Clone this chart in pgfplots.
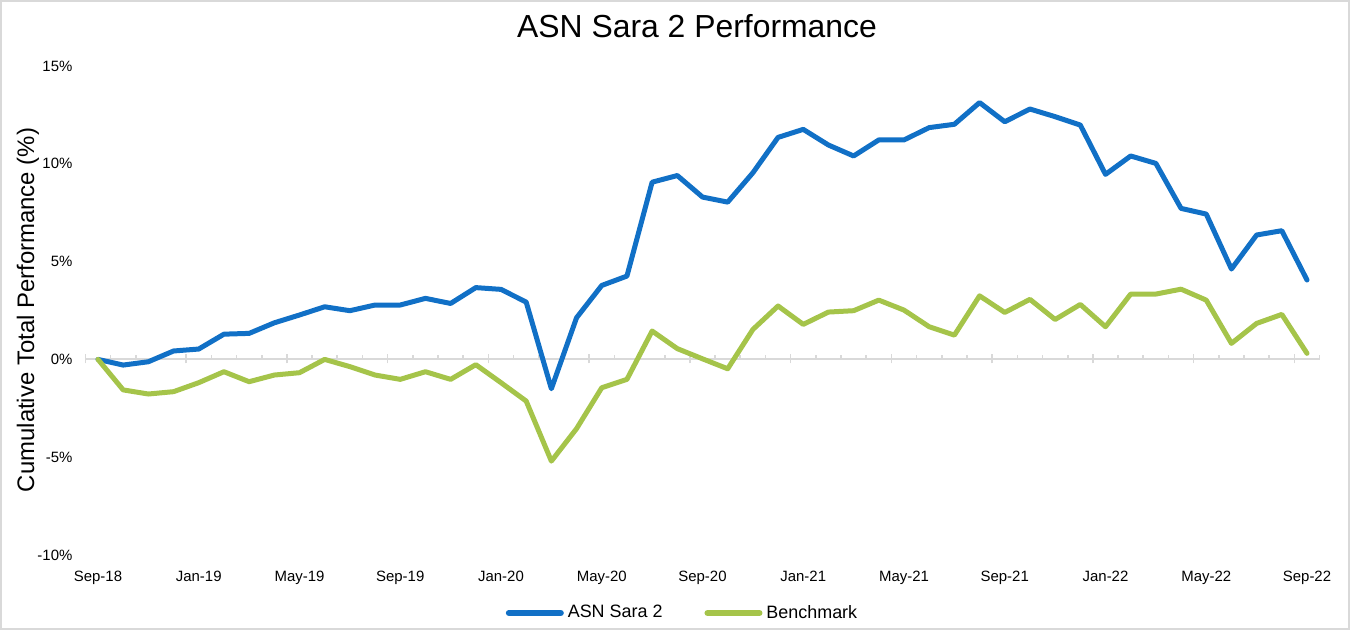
\documentclass[border=0pt]{standalone}
\usepackage{fontspec}
\setmainfont{Liberation Sans}
\usepackage{pgfplots}
\usepackage{pgfplotstable}
\pgfplotsset{compat=1.18}
\definecolor{asnblue}{RGB}{17,112,198}
\definecolor{benchgreen}{RGB}{165,196,74}
\definecolor{axgray}{RGB}{217,217,217}
\pgfplotstableread{
m fund bench
0 0 0
1 -0.29 -1.56
2 -0.12 -1.77
3 0.43 -1.65
4 0.53 -1.19
5 1.29 -0.63
6 1.33 -1.14
7 1.87 -0.80
8 2.27 -0.68
9 2.69 0.00
10 2.49 -0.37
11 2.78 -0.80
12 2.78 -1.02
13 3.12 -0.63
14 2.86 -1.02
15 3.67 -0.27
16 3.58 -1.19
17 2.93 -2.13
18 -1.50 -5.20
19 2.13 -3.54
20 3.78 -1.45
21 4.26 -1.02
22 9.06 1.45
23 9.40 0.55
24 8.30 0.03
25 8.04 -0.48
26 9.54 1.53
27 11.35 2.73
28 11.76 1.79
29 10.96 2.42
30 10.40 2.49
31 11.22 3.03
32 11.22 2.52
33 11.85 1.67
34 12.02 1.24
35 13.13 3.25
36 12.15 2.40
37 12.80 3.07
38 12.41 2.04
39 11.98 2.81
40 9.46 1.67
41 10.40 3.34
42 10.02 3.34
43 7.72 3.59
44 7.43 3.03
45 4.62 0.82
46 6.36 1.84
47 6.58 2.30
48 4.06 0.31
}\perf
\begin{document}
\begin{tikzpicture}
\useasboundingbox (0,0) rectangle (675bp,315bp);
\draw[axgray, line width=0.8bp] (0.4bp,0.4bp) rectangle (674.6bp,314.6bp);
\node[font=\fontsize{16}{19}\selectfont, anchor=base] at (348.5bp,296bp) {ASN Sara 2 Performance};
\node[font=\fontsize{12}{14}\selectfont, rotate=90] at (14bp,160bp) {Cumulative Total Performance (\%)};
\begin{axis}[
  at={(42.7bp,37.5bp)}, anchor=south west,
  scale only axis, width=617.1bp, height=244.5bp,
  xmin=-0.5, xmax=48.5, ymin=-10, ymax=15,
  axis line style={draw=none},
  major tick length=0pt,
  xtick={0,4,...,48},
  xticklabels={Sep-18,Jan-19,May-19,Sep-19,Jan-20,May-20,Sep-20,Jan-21,May-21,Sep-21,Jan-22,May-22,Sep-22},
  ytick={-10,-5,0,5,10,15},
  yticklabels={-10\%,-5\%,0\%,5\%,10\%,15\%},
  tick label style={font=\fontsize{7.5}{9}\selectfont},
  xticklabel style={yshift=-4.5bp},
  yticklabel style={xshift=-3bp},
  clip=false,
  legend columns=2,
  legend style={draw=none, fill=none, at={(0.4846,-0.1186)}, anchor=center,
    font=\fontsize{9}{11}\selectfont,
    /tikz/every even column/.append style={column sep=19bp},
    /tikz/every odd column/.append style={column sep=0bp}},
  legend cell align=left,
  legend image code/.code={\draw[#1, line width=3bp] (0bp,0bp) -- (26bp,0bp);},
]
\draw[axgray, line width=1bp] (axis cs:-0.5,0) -- (axis cs:48.5,0);
\pgfplotsinvokeforeach{0.5,1.5,2.5,4.5,5.5,6.5,8.5,9.5,10.5,12.5,13.5,14.5,16.5,17.5,18.5,20.5,21.5,22.5,24.5,25.5,26.5,28.5,29.5,30.5,32.5,33.5,34.5,36.5,37.5,38.5,40.5,41.5,42.5,44.5,45.5,46.5,48.5}{
  \draw[axgray, line width=0.8bp] (axis cs:#1,0) -- ([yshift=2.3bp]axis cs:#1,0);
}
\pgfplotsinvokeforeach{-0.5,3.5,7.5,11.5,15.5,19.5,23.5,27.5,31.5,35.5,39.5,43.5,47.5}{
  \draw[axgray, line width=0.8bp] ([yshift=-2bp]axis cs:#1,0) -- ([yshift=2.5bp]axis cs:#1,0);
}
\addplot[asnblue, line width=2.5bp, line join=round, line cap=round, mark=none] table[x=m, y=fund] {\perf};
\addlegendentry{ASN Sara 2}
\addplot[benchgreen, line width=2.5bp, line join=round, line cap=round, mark=none] table[x=m, y=bench] {\perf};
\addlegendentry{Benchmark}
\end{axis}
\end{tikzpicture}
\end{document}
